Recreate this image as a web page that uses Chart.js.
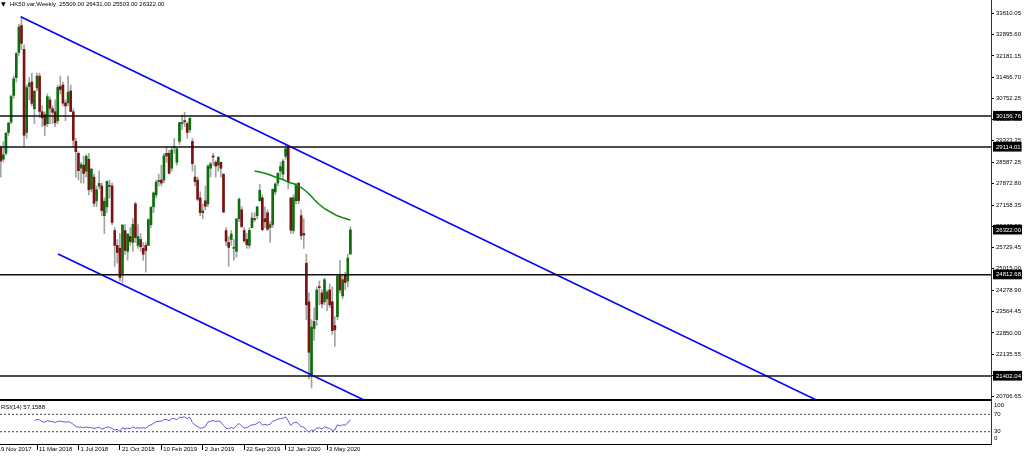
<!DOCTYPE html>
<html><head><meta charset="utf-8">
<script src="https://cdn.jsdelivr.net/npm/chart.js@4.4.1/dist/chart.umd.min.js"></script>
<style>
html,body{margin:0;padding:0;background:#fff;overflow:hidden;}
#wrap{position:relative;width:1024px;height:457px;background:#fff;}
#main{position:absolute;left:0;top:0;}
#rsi{position:absolute;left:0;top:400px;}
</style></head><body>
<div id="wrap"><canvas id="main" width="1024" height="400"></canvas><canvas id="rsi" width="1024" height="57"></canvas></div>
<script>
// ---------- texts ----------
const symbolTitle = 'HK50.var,Weekly';
const lastBarValues = ['25509.00', '26431.00', '25503.00', '26322.00'];
const rsiTitle = 'RSI(14) 57.1588';

// ---------- weekly candles (week offsets relative to 11 Mar 2018; first bar = week -15) ----------
const firstWeek = -15;
const opens = [29900,29100,28700,28900,29600,29950,30850,31450,32300,33200,32400,29600,31150,31300,30400,
31100,31500,30300,30200,29900,30700,30400,30300,30000,31150,
31200,30600,30600,31000,30300,29300,28900,28400,28500,28300,
28700,27700,28100,27300,27800,27800,26800,27100,27800,27800,
26300,25800,25700,24800,26300,25600,26100,25900,27200,25800,
26000,25700,25800,25800,26500,27100,27500,27950,28000,28000,
28900,28900,28400,29100,28600,29300,29900,30000,29900,29700,
29300,28100,28000,27400,26900,27300,27200,28400,28800,28600,
28500,28600,28200,26300,25900,26000,25700,25600,26700,27000,
26300,26000,25800,26400,26700,26800,27300,27400,26700,26900,
26400,26500,27600,27900,28300,28200,28800,29100,27400,26300,
27300,27900,26800,26200,25200,23900,21450,23000,23300,24400,
24200,23900,24000,24300,23900,23100,23400,24800,24100,24800,
24600,25509];
const highs = [29950,29150,29300,29600,29950,30850,31500,32300,33250,33500,32550,31200,31450,31600,31000,
31600,31600,30500,30300,30900,30800,30500,30700,31200,31500,
31300,30700,31500,31200,30400,29400,28950,28600,28800,28850,
28900,28400,28200,27800,28300,27900,27400,27970,28000,27900,
26400,26000,26200,26500,26500,26200,26400,26700,27260,26500,
26200,25900,25900,26700,27100,27600,28000,28200,28500,28900,
29100,29000,29100,29400,29100,29950,30200,30280,29950,30100,
29400,28500,28100,27600,27200,27800,28500,28600,28900,28650,
28800,28600,28200,26400,26100,26300,26000,26700,27400,27100,
26400,26200,26400,26900,26900,27100,27850,27500,27100,27000,
26600,27700,27900,28250,28600,28700,29170,29174,27400,27500,
27900,27900,27000,26700,25500,24200,23300,23700,24400,24600,
24300,24700,24300,24500,24400,23400,24800,25300,24800,24900,
25500,26431];
const lows = [28900,28100,28600,28850,29500,29900,30750,31300,32200,32400,29130,29400,30700,30500,29900,
31000,30100,29800,29500,29800,29900,29900,29800,29900,30900,
30500,30000,30500,30300,29100,28100,28000,27900,27900,28100,
27500,27600,27100,27100,27700,26800,26200,26900,27400,26500,
25100,25200,24600,24540,25500,25300,25800,25600,25900,25700,
25600,25300,24900,25800,26400,26900,27400,27800,27800,27900,
28600,28200,28300,28900,28500,29200,29700,29800,29400,29600,
28300,27800,27300,26800,26700,27000,27100,28100,28500,28100,
28300,28100,26900,25800,25100,25800,25300,25400,26600,26400,
25900,25700,25700,26400,26600,26700,27300,26300,26400,26300,
25900,26400,27500,27800,28100,28000,28700,27700,26200,26200,
27200,27200,26000,25700,23300,21300,21000,22600,23100,23800,
23700,23800,23600,23700,22800,22400,23300,24200,24000,24300,
24400,25503];
const closes = [29074,28640,28848,29578,29919,30814,31412,32255,33154,32601,29507,31115,31267,30583,30996,
31502,30309,30093,29844,30809,30418,30281,29927,31122,31048,
30588,30493,30958,30309,29339,28955,28316,28525,28224,28804,
27677,28367,27213,27672,27889,26973,27286,27954,27789,26573,
25801,25561,24717,26486,25633,26183,25928,26506,26063,26094,
25753,25504,25626,26667,27090,27569,27930,27990,27901,28816,
28812,28228,29012,29113,29051,29936,29910,29963,29605,30081,
28550,27946,27353,26901,26965,27118,28474,28543,28775,28471,
28765,28397,26919,25939,25734,26179,25725,26691,27353,26436,
25955,25821,26308,26720,26667,27101,27651,26327,26595,26346,
26498,27688,27871,28225,28452,28638,29056,27950,26313,27404,
27816,27309,26130,26147,23800,22200,23050,23236,24300,24380,
23831,24644,24230,23797,22930,22961,24770,24301,24644,24549,
25373,26322];

// ---------- green moving average (weeks 84 .. 121) ----------
const maFirstWeek = 84;
const maValues = [28304,28287,28270,28247,28227,28203,28170,28136,28102,28069,28045,28018,27974,27934,27900,27883,
27833,27793,27748,27681,27614,27530,27446,27345,27260,27176,27109,27041,26991,26940,26890,26839,26796,26765,
26732,26705,26678,26654];

// ---------- RSI(14) (weeks -1 .. 121) ----------
const rsiFirstWeek = -1;
const rsiValues = [56,58,57,53,52,55,54,53,51,54,54,53,52,53,51,47,42,40,41,39,41,39,40,37,39,40,36,38,41,40,37,34,35,31,
39,36,38,37,41,38,39,38,39,38,43,46,49,53,54,54,58,58,55,60,60,58,63,63,64,60,63,51,45,42,38,39,42,52,54,56,53,55,52,
44,38,37,40,37,44,49,43,39,39,43,46,46,49,53,45,47,45,47,54,56,59,60,61,64,55,44,50,52,48,41,41,34,29,34,33,38,39,36,
41,39,37,33,34,46,43,46,45,50,57.16];
const rsiLevels = [70, 30];
const rsiAxisValues = [100, 70, 30, 0];
const rsiAxisLabels = ['100', '70', '30', '0'];

// ---------- drawn objects ----------
const levelLines = [30156.76, 29114.01, 24812.68, 21402.04];
const upperTrendWeeks = [-6.29, 305];
const upperTrendPrices = [33500, 20421];
const lowerTrendWeeks = [8.11, 126.6];
const lowerTrendPrices = [25510, 20580];

// ---------- axes ----------
const priceTickValues = [33610.05,32895.60,32181.15,31466.70,30752.25,30037.80,29323.35,28587.25,27872.80,27158.35,
26443.90,25729.45,25015.00,24278.90,23564.45,22850.00,22135.55,21421.10,20706.65];
const priceTickLabels = ['33610.05','32895.60','32181.15','31466.70','30752.25','30037.80','29323.35','28587.25','27872.80','27158.35',
'26443.90','25729.45','25015.00','24278.90','23564.45','22850.00','22135.55','21421.10','20706.65'];
const markedValues = [30156.76, 29114.01, 26322.00, 24812.68, 21402.04];
const markedLabels = ['30156.76', '29114.01', '26322.00', '24812.68', '21402.04'];
const dateTickWeeks = [-16, 0, 16, 32, 48, 64, 80, 96, 112];
const dateTickLabels = ['19 Nov 2017','11 Mar 2018','1 Jul 2018','21 Oct 2018','10 Feb 2019','2 Jun 2019','22 Sep 2019','12 Jan 2020','3 May 2020'];

const xMin = -14.29, xMax = 368.34;
const yMin = 20627.6, yMax = 34062.7;
const rsiMin = 1.7, rsiMax = 102.9;

const FONT = "'Liberation Sans', Arial, sans-serif";
const FS = 6;
const BULL = '#0b6e0b', BEAR = '#7c1212', WICK = '#a3a3a3';

Chart.defaults.font.family = FONT;
Chart.defaults.font.size = FS;
Chart.defaults.color = '#000';

const allPriceValues = priceTickValues.concat(markedValues);
const allPriceLabels = priceTickLabels.concat(markedLabels);
const nPlain = priceTickValues.length;

const pts = (xs, ys) => xs.map((x, i) => ({x: x, y: ys[i]}));
const lineDs = (data, color, width, order, dash) => ({
  type: 'line', data: data, borderColor: color, borderWidth: width, pointRadius: 0,
  borderDash: dash || [], tension: 0, order: order, fill: false
});

const headerPlugin = {
  id: 'header',
  afterDraw(chart) {
    const c = chart.ctx;
    c.save();
    c.fillStyle = '#000';
    c.textBaseline = 'middle';
    c.font = '6px "DejaVu Sans"';
    c.fillText('\u25BC', 1, 4);
    c.font = FS + 'px ' + FONT;
    c.fillText(symbolTitle + '  ' + lastBarValues.join(' '), 10, 4);
    c.restore();
  }
};

const mainDatasets = [];
levelLines.forEach(v => mainDatasets.push(lineDs([{x: xMin, y: v}, {x: xMax, y: v}], '#111', 1.6, 1)));
mainDatasets.push(lineDs(pts(upperTrendWeeks, upperTrendPrices), '#0000ff', 1.6, 1));
mainDatasets.push(lineDs(pts(lowerTrendWeeks, lowerTrendPrices), '#0000ff', 1.6, 1));
mainDatasets.push(lineDs(maValues.map((v, i) => ({x: maFirstWeek + i, y: v})), '#0a8a0a', 1.5, 2));
mainDatasets.push({
  type: 'bar', grouped: false, order: 4, barThickness: 1, backgroundColor: WICK,
  data: highs.map((h, i) => ({x: firstWeek + i, y: [lows[i], h]}))
});
mainDatasets.push({
  type: 'bar', grouped: false, order: 3, barThickness: 2, minBarLength: 1,
  backgroundColor: ctx => closes[ctx.dataIndex] >= opens[ctx.dataIndex] ? BULL : BEAR,
  data: opens.map((o, i) => ({x: firstWeek + i, y: [o, closes[i]]}))
});

new Chart(document.getElementById('main'), {
  type: 'bar',
  data: {datasets: mainDatasets},
  plugins: [headerPlugin],
  options: {
    responsive: false, animation: false, devicePixelRatio: 1, events: [],
    layout: {padding: {top: 0, left: 0, right: 0, bottom: 1}, autoPadding: false},
    plugins: {legend: {display: false}, tooltip: {enabled: false}},
    scales: {
      x: {
        type: 'linear', min: xMin, max: xMax, offset: false, position: 'bottom',
        ticks: {display: false}, grid: {display: false, drawTicks: false, offset: false},
        border: {display: true, color: '#000', width: 1},
        afterFit: s => { s.height = 0; s.paddingLeft = 0; s.paddingRight = 0; }
      },
      y: {
        type: 'linear', position: 'right', min: yMin, max: yMax,
        afterBuildTicks: s => { s.ticks = allPriceValues.map(v => ({value: v})); },
        afterFit: s => { s.width = 33; s.paddingTop = 0; s.paddingBottom = 0; },
        ticks: {
          autoSkip: false, padding: 2, font: {size: FS},
          callback: (v, i) => allPriceLabels[i],
          color: ctx => ctx.index >= nPlain ? '#fff' : '#000',
          showLabelBackdrop: ctx => ctx.index >= nPlain,
          backdropColor: '#000',
          backdropPadding: {top: 1.5, bottom: 1, left: 3, right: 1}
        },
        grid: {
          display: true, drawOnChartArea: false, drawTicks: true, tickLength: 3,
          tickColor: ctx => ctx.index >= nPlain ? 'rgba(0,0,0,0)' : '#000'
        },
        border: {display: true, color: '#333', width: 1}
      }
    }
  }
});

const rsiPlugin = {
  id: 'rsiText',
  afterDraw(chart) {
    const c = chart.ctx, ys = chart.scales.y, a = chart.chartArea;
    c.save();
    c.fillStyle = '#000';
    c.textBaseline = 'middle';
    c.font = FS + 'px ' + FONT;
    c.fillText(rsiTitle, 1, 7);
    rsiAxisValues.forEach((v, i) => {
      const y = Math.min(Math.max(ys.getPixelForValue(v), a.top + 5), a.bottom - 5.5);
      c.fillText(rsiAxisLabels[i], a.right + 3, y);
    });
    c.restore();
  }
};

const rsiDatasets = rsiLevels.map(v => lineDs([{x: xMin, y: v}, {x: xMax, y: v}], '#444', 1, 2, [2, 2]));
rsiDatasets.push(lineDs(rsiValues.map((v, i) => ({x: rsiFirstWeek + i, y: v})), '#5a5ad6', 1, 1));

new Chart(document.getElementById('rsi'), {
  type: 'line',
  data: {datasets: rsiDatasets},
  plugins: [rsiPlugin],
  options: {
    responsive: false, animation: false, devicePixelRatio: 1, events: [],
    layout: {padding: 0, autoPadding: false},
    plugins: {legend: {display: false}, tooltip: {enabled: false}},
    scales: {
      x: {
        type: 'linear', min: xMin, max: xMax, offset: false, position: 'bottom',
        afterBuildTicks: s => { s.ticks = dateTickWeeks.map(v => ({value: v})); },
        afterFit: s => { s.height = 13; s.paddingLeft = 0; s.paddingRight = 0; },
        ticks: {
          autoSkip: false, maxRotation: 0, minRotation: 0, align: 'start', labelOffset: 2, padding: -4,
          color: '#000', font: {size: FS}, callback: (v, i) => dateTickLabels[i]
        },
        grid: {display: true, drawOnChartArea: false, drawTicks: true, tickLength: 6, tickColor: '#000', tickWidth: 1},
        border: {display: true, color: '#000', width: 1}
      },
      xTop: {
        type: 'linear', min: xMin, max: xMax, position: 'top', offset: false,
        ticks: {display: false}, grid: {display: false, drawTicks: false},
        border: {display: true, color: '#000', width: 1},
        afterFit: s => { s.height = 0; s.paddingLeft = 0; s.paddingRight = 0; }
      },
      y: {
        type: 'linear', position: 'right', min: rsiMin, max: rsiMax,
        ticks: {display: false}, grid: {display: false, drawTicks: false},
        border: {display: true, color: '#333', width: 1},
        afterFit: s => { s.width = 33; s.paddingTop = 0; s.paddingBottom = 0; }
      }
    }
  }
});
</script>
</body></html>
